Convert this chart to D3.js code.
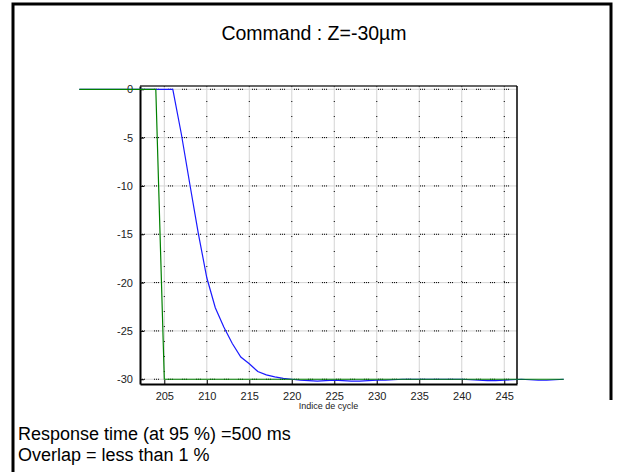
<!DOCTYPE html>
<html>
<head>
<meta charset="utf-8">
<script src="https://cdn.jsdelivr.net/npm/d3@7"></script>
<style>
body { margin: 0; background: #fff; }
svg { display: block; font-family: "Liberation Sans", Arial, sans-serif; }
</style>
</head>
<body>
<script>
// values
var cycles = [195, 196, 197, 198, 199, 200, 201, 202, 203, 204, 205, 206, 207, 208, 209, 210,
	211, 212, 213, 214, 215, 216, 217, 218, 219, 220, 221, 222, 223, 224, 225, 226, 227, 228,
	229, 230, 231, 232, 233, 234, 235, 236, 237, 238, 239, 240, 241, 242, 243, 244, 245, 246,
	247, 248, 249, 250, 251, 252];
var response = [0, 0, 0, 0, 0, 0, 0, 0, 0, 0, 0, 0, -4.6, -9.8, -14.9, -19.5,
	-22.6, -24.6, -26.3, -27.7, -28.4, -29.2, -29.55, -29.75, -29.9, -30.0, -30.1, -30.15, -30.2, -30.15, -30.1, -30.15, -30.2, -30.2,
	-30.15, -30.1, -30.1, -30.05, -30.0, -30.0, -30.0, -30.0, -30.0, -30.0, -30.0, -30.0, -30.05, -30.1, -30.15, -30.15, -30.1, -30.05,
	-30.0, -30.05, -30.1, -30.1, -30.05, -30.0];
var cmdCycles = [195, 204, 205, 252];
var command = [0, 0, -30, -30];
var xTicks = [205, 210, 215, 220, 225, 230, 235, 240, 245];
var yTicks = [0, -5, -10, -15, -20, -25, -30];
var title = "Command : Z=-30µm";
var xLabel = "Indice de cycle";
var notes = ["Response time (at 95 %) =500 ms", "Overlap = less than 1 %"];

var W = 625, H = 472;
var plot = {left: 140, top: 86, right: 517, bottom: 384};

var svg = d3.select("body").append("svg")
	.attr("width", W)
	.attr("height", H);

// frame round the figure
svg.append("path")
	.attr("d", "M13,472 V4 H611 V400")
	.attr("fill", "none")
	.attr("stroke", "#000")
	.attr("stroke-width", 3);

var x = d3.scaleLinear().domain([202.14, 246.5]).range([plot.left, plot.right]);
var y = d3.scaleLinear().domain([-30.49, 0.34]).range([plot.bottom, plot.top]);

// grid
var grid = svg.append("g");
xTicks.forEach(function(t) {
	grid.append("line")
		.attr("x1", x(t)).attr("x2", x(t))
		.attr("y1", plot.top).attr("y2", plot.bottom)
		.attr("stroke", "#d4d4d4").attr("stroke-width", 1);
	grid.append("line")
		.attr("x1", x(t)).attr("x2", x(t))
		.attr("y1", plot.top).attr("y2", plot.bottom)
		.attr("stroke", "#000").attr("stroke-width", 1)
		.attr("stroke-dasharray", "1,14");
});
yTicks.forEach(function(t) {
	grid.append("line")
		.attr("x1", plot.left).attr("x2", plot.right)
		.attr("y1", y(t)).attr("y2", y(t))
		.attr("stroke", "#d4d4d4").attr("stroke-width", 1);
	grid.append("line")
		.attr("x1", plot.left).attr("x2", plot.right)
		.attr("y1", y(t)).attr("y2", y(t))
		.attr("stroke", "#000").attr("stroke-width", 1)
		.attr("stroke-dasharray", "1,1,1,1,1,9");
});

// box
svg.append("line")
	.attr("x1", plot.left).attr("x2", plot.right)
	.attr("y1", plot.top).attr("y2", plot.top)
	.attr("stroke", "#333").attr("stroke-width", 1.5);
svg.append("line")
	.attr("x1", plot.right).attr("x2", plot.right)
	.attr("y1", plot.top).attr("y2", plot.bottom)
	.attr("stroke", "#000").attr("stroke-width", 1.5);

// axes, ticks pointing inward, plain hyphen for minus
var fmt = function(d) { return String(d); };
var xAxis = svg.append("g")
	.attr("transform", "translate(0," + plot.bottom + ")")
	.call(d3.axisBottom(x).tickValues(xTicks).tickFormat(fmt).tickSizeInner(-4).tickSizeOuter(0).tickPadding(8));
var yAxis = svg.append("g")
	.attr("transform", "translate(" + plot.left + ",0)")
	.call(d3.axisLeft(y).tickValues(yTicks).tickFormat(fmt).tickSizeInner(-4).tickSizeOuter(0).tickPadding(7));
[xAxis, yAxis].forEach(function(a) {
	a.select(".domain").attr("stroke", "#000").attr("stroke-width", 2);
	a.selectAll(".tick line").attr("stroke", "#000");
	a.selectAll(".tick text")
		.attr("fill", "#222")
		.style("font-family", "'Liberation Sans', Arial, sans-serif")
		.style("font-size", "11px");
});

// curves (not clipped, as in the original)
var line = d3.line()
	.x(function(d) { return x(d[0]); })
	.y(function(d) { return y(d[1]); });

svg.append("path")
	.datum(d3.zip(cycles, response))
	.attr("d", line)
	.attr("fill", "none")
	.attr("stroke", "#1a1aff")
	.attr("stroke-width", 1.2);
svg.append("path")
	.datum(d3.zip(cmdCycles, command))
	.attr("d", line)
	.attr("fill", "none")
	.attr("stroke", "#008000")
	.attr("stroke-width", 1.2);

// texts
svg.append("text")
	.attr("x", 314).attr("y", 40)
	.attr("text-anchor", "middle")
	.style("font-size", "19.5px")
	.text(title);
svg.append("text")
	.attr("x", (plot.left + plot.right) / 2).attr("y", 409)
	.attr("text-anchor", "middle")
	.style("font-size", "9px")
	.attr("fill", "#222")
	.text(xLabel);
svg.selectAll("text.note")
	.data(notes)
	.enter().append("text")
	.attr("class", "note")
	.attr("x", 18)
	.attr("y", function(d, i) { return 440 + i * 21; })
	.style("font-size", "18px")
	.text(function(d) { return d; });
</script>
</body>
</html>
